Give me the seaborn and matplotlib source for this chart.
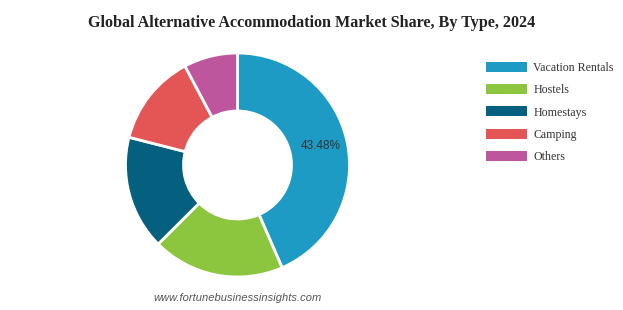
import matplotlib
matplotlib.use("Agg")
import matplotlib.pyplot as plt
import seaborn as sns

categories = ["Vacation Rentals", "Hostels", "Homestays", "Camping", "Others"]
shares = [43.48, 19.05, 16.45, 13.25, 7.77]
colors = ["#1E9BC4", "#8CC63F", "#05607F", "#E45656", "#BE569E"]
title = "Global Alternative Accommodation Market Share, By Type, 2024"
source = "www.fortunebusinessinsights.com"

sns.set_theme(style="white")
plt.rcParams["font.family"] = ["Liberation Serif", "DejaVu Serif"]

W, H = 623, 310
fig = plt.figure(figsize=(W / 100, H / 100), dpi=100)
fig.patch.set_facecolor("white")

cx, cy, r = 237.5, 165, 112
ax = fig.add_axes([(cx - r) / W, (H - cy - r) / H, 2 * r / W, 2 * r / H])
wedges, _ = ax.pie(
    shares, colors=sns.color_palette(colors), startangle=90, counterclock=False,
    radius=1, wedgeprops=dict(width=58 / 112, edgecolor="white", linewidth=2),
)
ax.set_xlim(-1, 1)
ax.set_ylim(-1, 1)
ax.set_aspect("equal")
ax.axis("off")

# label on the largest slice
ax.text((321 - cx) / r, -(146 - cy) / r, f"{shares[0]:.2f}%", ha="center", va="center",
        fontsize=8.5, color="#333333", family=["Liberation Sans", "DejaVu Sans"])

fig.text(0.5 * (87 + 537) / W, 1 - 23 / H, title, ha="center", va="center",
         fontsize=11.6, fontweight="bold", color="#222222")

leg = fig.legend(wedges, categories, loc="upper left",
                 bbox_to_anchor=(486 / W, 1 - 62 / H), frameon=False,
                 borderpad=0, borderaxespad=0, handlelength=3.4, handleheight=0.9,
                 labelspacing=0.85, handletextpad=0.55, fontsize=8.6)
for t in leg.get_texts():
    t.set_color("#333333")
for h in leg.legend_handles:
    h.set_edgecolor("none")

fig.text(238 / W, 1 - 298 / H, source, ha="center", va="center", fontsize=8,
         style="italic", color="#555555", family=["Liberation Sans", "DejaVu Sans"])

fig.savefig("out.png", dpi=100, facecolor="white")
